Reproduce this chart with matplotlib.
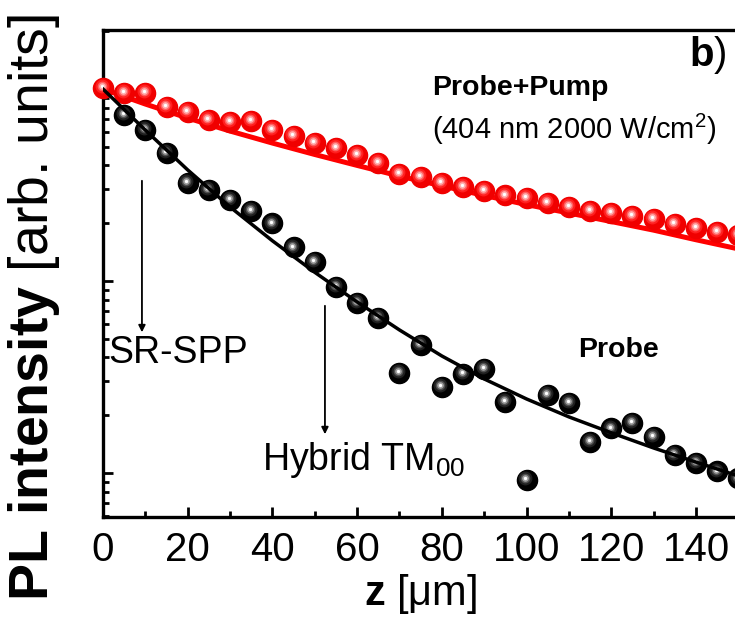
import numpy as np
import matplotlib
matplotlib.use("Agg")
import matplotlib.pyplot as plt
from matplotlib.transforms import offset_copy

plt.rcParams['font.family'] = ['Liberation Sans', 'DejaVu Sans']
plt.rcParams['mathtext.fontset'] = 'custom'
plt.rcParams['mathtext.rm'] = 'Liberation Sans'
plt.rcParams['mathtext.bf'] = 'Liberation Sans:bold'
plt.rcParams['mathtext.it'] = 'Liberation Sans:italic'

# datos
z_puntos = [0, 5, 10, 15, 20, 25, 30, 35, 40, 45, 50, 55, 60, 65, 70, 75,
            80, 85, 90, 95, 100, 105, 110, 115, 120, 125, 130, 135, 140, 145, 150]
pl_pump = [101.2, 95.3, 95.3, 80.6, 75.9, 69.0, 67.3, 68.1, 61.1, 56.9, 52.3,
           49.3, 45.3, 41.2, 36.3, 34.8, 32.4, 30.9, 29.4, 28.0, 27.1, 25.5,
           24.3, 23.2, 22.7, 21.8, 21.0, 19.8, 18.9, 18.0, 17.4]

z_probe = [5, 10, 15, 20, 25, 30, 35, 40, 45, 50, 55, 60, 65, 70, 75,
           80, 85, 90, 95, 100, 105, 110, 115, 120, 125, 130, 135, 140, 145, 150]
pl_probe = [73.2, 61.1, 46.4, 32.4, 29.8, 26.4, 23.2, 20.0, 15.0, 12.6, 9.3,
            7.68, 6.42, 3.32, 4.64, 2.81, 3.28, 3.48, 2.34, 0.92, 2.55, 2.32,
            1.45, 1.71, 1.82, 1.54, 1.24, 1.13, 1.02, 0.94]

# curvas de ajuste
z_ajuste = [0, 10, 20, 30, 40, 50, 60, 70, 80, 90, 100, 110, 120, 130, 140, 150]
ajuste_pump = [100, 83.5, 70.6, 60.4, 52.3, 45.6, 40.0, 35.2, 31.3, 27.9,
               25.0, 22.6, 20.4, 18.4, 16.4, 14.7]
ajuste_probe = [100, 61.1, 37.9, 24.3, 16.2, 11.1, 7.78, 5.56, 4.07, 3.09,
                2.43, 1.96, 1.62, 1.35, 1.14, 0.965]

fig = plt.figure(figsize=(7.35, 6.26), dpi=100)
ax = fig.add_axes([0.1401, 0.1741, 0.8645, 0.778])
ax.set_yscale('log')


def esferas(x, y, base, capas, z):
    # marcador tipo esfera: circulo base + brillos desplazados arriba-izquierda
    ax.plot(x, y, 'o', ms=14.5, color=base, mec=base, zorder=z, clip_on=False)
    tr = offset_copy(ax.transData, fig=fig, x=-1.0, y=1.2, units='points')
    for i, (c, s) in enumerate(capas):
        ax.plot(x, y, 'o', ms=s, color=c, mec='none', zorder=z + 0.1 * (i + 1),
                transform=tr, clip_on=False)


ax.plot(z_ajuste, ajuste_pump, '-', color='#ff0000', lw=3.6, zorder=2)
esferas(z_puntos, pl_pump, '#f00000',
        [('#ff2020', 10), ('#ff6060', 7), ('#ffb0b0', 4.8), ('#ffffff', 2.4)], 3)
esferas(z_probe, pl_probe, '#000000',
        [('#202020', 10), ('#505050', 7), ('#a0a0a0', 4.8), ('#ffffff', 2.4)], 4)
ax.plot(z_ajuste, ajuste_probe, '-', color='black', lw=2.5, zorder=5)

ax.set_xlim(0, 150)
ax.set_ylim(0.59, 203)
ax.set_xticks(np.arange(0, 141, 20))
ax.set_xticks(np.arange(10, 151, 20), minor=True)
ax.set_yticklabels([], minor=True)
ax.set_yticklabels([])
ax.tick_params(axis='both', which='both', direction='in', width=2)
ax.tick_params(axis='y', which='major', length=7)
ax.tick_params(axis='y', which='minor', length=4)
ax.tick_params(axis='x', which='major', length=7, labelsize=29, pad=10)
ax.tick_params(axis='x', which='minor', length=4)
for s in ax.spines.values():
    s.set_linewidth(2.4)

ax.set_xlabel(r'$\bf{z}$ [μm]', fontsize=30, labelpad=2)
ax.set_ylabel(r'$\bf{PL\ intensity}$ [arb. units]', fontsize=40)
ax.yaxis.set_label_coords(-0.064, 0.43)

ax.text(0.518, 0.881, 'Probe+Pump', transform=ax.transAxes, fontsize=20.5,
        fontweight='bold', va='center')
ax.text(0.518, 0.795, r'(404 nm 2000 W/cm$^2$)', transform=ax.transAxes,
        fontsize=21, va='center')
ax.text(0.748, 0.343, 'Probe', transform=ax.transAxes, fontsize=20.5,
        fontweight='bold', va='center')
ax.text(0.008, 0.337, 'SR-SPP', transform=ax.transAxes, fontsize=27, va='center')
ax.text(0.250, 0.117, r'Hybrid TM$_{00}$', transform=ax.transAxes, fontsize=27,
        va='center')
ax.text(0.923, 0.949, r'$\bf{b}$)', transform=ax.transAxes, fontsize=29,
        va='center')

ax.annotate('', xy=(9.2, 5.23), xytext=(9.2, 34.4),
            arrowprops=dict(arrowstyle='-|>', color='black', lw=1.3,
                            mutation_scale=10))
ax.annotate('', xy=(52.4, 1.54), xytext=(52.4, 7.68),
            arrowprops=dict(arrowstyle='-|>', color='black', lw=1.3,
                            mutation_scale=10))

plt.savefig("out.png", dpi=100)
